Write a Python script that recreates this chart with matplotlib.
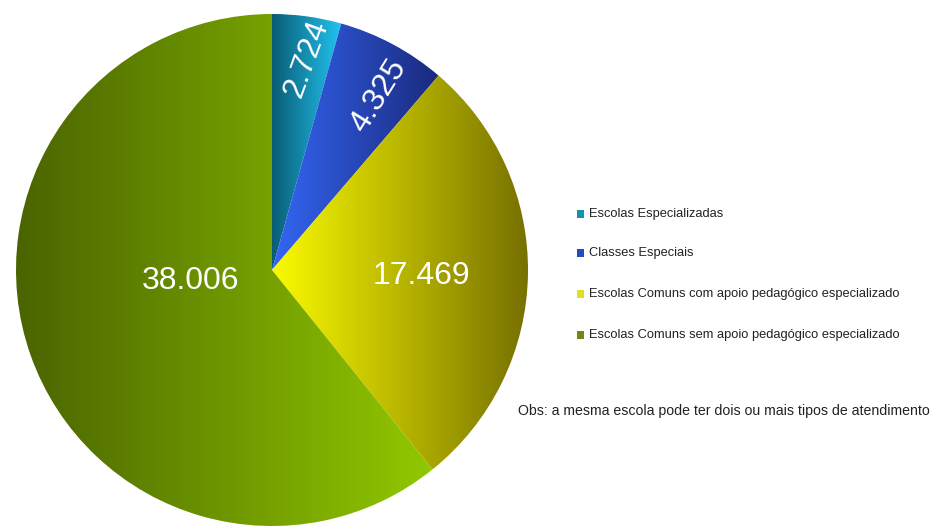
import numpy as np
import matplotlib.pyplot as plt
from matplotlib.patches import Rectangle
from matplotlib.colors import LinearSegmentedColormap

plt.rcParams['font.family'] = ['Liberation Sans', 'DejaVu Sans']

categorias = ['Escolas Especializadas',
              'Classes Especiais',
              'Escolas Comuns com apoio pedagógico especializado',
              'Escolas Comuns sem apoio pedagógico especializado']
escolas = [2724, 4325, 17469, 38006]
rotulos = ['2.724', '4.325', '17.469', '38.006']
obs = 'Obs: a mesma escola pode ter dois ou mais tipos de atendimento'

# gradient (left colour, right colour) for each slice
gradientes = [('#0a5c74', '#22c4f2'),
              ('#3466f4', '#1a2a7e'),
              ('#fbfb00', '#767000'),
              ('#4a6400', '#92c800')]
cores_legenda = ['#1590b0', '#2a48c0', '#e0e020', '#6a8a10']

W, H = 939, 528
fig = plt.figure(figsize=(W / 100, H / 100), dpi=100)
ax = fig.add_axes([0, 0, 1, 1])

cx, cy, r = 272, H - 270, 256
wedges, _ = ax.pie(escolas, center=(cx, cy), radius=r, startangle=90,
                   counterclock=False, frame=True)
ax.set_xlim(0, W)
ax.set_ylim(0, H)
ax.set_aspect('equal')
ax.axis('off')

grad = np.linspace(0, 1, 256).reshape(1, -1)
for w, (c0, c1) in zip(wedges, gradientes):
    w.set_facecolor('none')
    w.set_edgecolor('none')
    cmap = LinearSegmentedColormap.from_list('g', [c0, c1])
    bb = w.get_path().get_extents(w.get_patch_transform())
    im = ax.imshow(grad, cmap=cmap, aspect='auto', interpolation='bilinear',
                   extent=[bb.x0, bb.x1, bb.y0, bb.y1], zorder=1)
    im.set_clip_path(w)

# value labels inside the slices
pos = [(307, H - 59, 70), (379, H - 96, 58), (421, H - 276, 0), (191, H - 281, 0)]
for (x, y, rot), txt in zip(pos, rotulos):
    ax.text(x, y, txt, color='white', fontsize=23, rotation=rot,
            ha='center', va='center', zorder=3)

# legend
ys = [214, 253, 294, 335]
for y, nome, cor in zip(ys, categorias, cores_legenda):
    ax.add_patch(Rectangle((577, H - y - 4), 7, 8, facecolor=cor,
                           edgecolor='none', zorder=3))
    ax.text(589, H - y, nome, fontsize=9.3, color='#222222',
            ha='left', va='center')

ax.text(518, H - 411, obs, fontsize=10.2, color='#222222',
        ha='left', va='center')

fig.savefig('out.png', dpi=100, facecolor='white')
